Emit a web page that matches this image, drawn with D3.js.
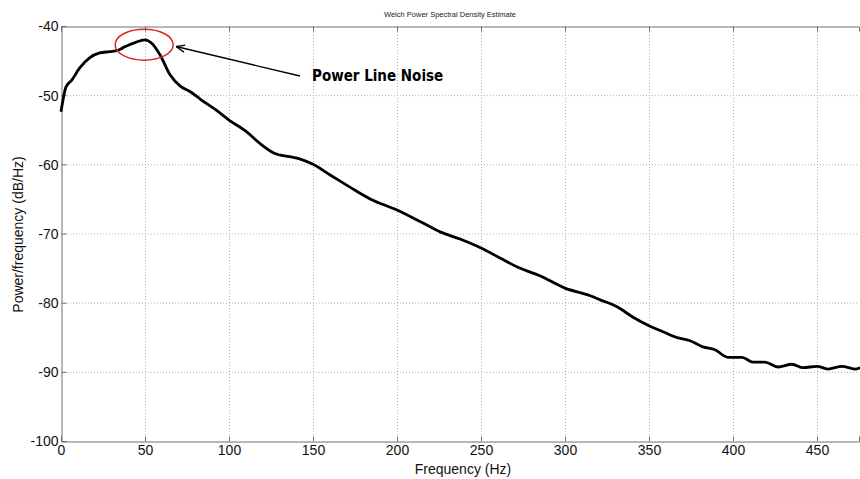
<!DOCTYPE html>
<html><head><meta charset="utf-8">
<script src="https://cdn.jsdelivr.net/npm/d3@7"></script>
<style>body{margin:0;background:#fff}svg{display:block}</style>
</head><body><svg id="c" width="860" height="479"></svg>
<script>
const freq = [0,3,6.5,11,17,23,29,34,38,44,50,54,59,65,71,77,83,92,100,110,118,127,136,142,150,160,172,184,200,214,226,237.5,250,261,273,285,300,315,321,331,340.5,350.6,358.3,367.3,374.4,382.1,389.3,397,405.4,411.9,419,426.8,435.1,441.7,450,456.5,464.9,472.6,475.6];
const power = [-52.4,-48.8,-47.8,-46.1,-44.6,-43.9,-43.7,-43.5,-43.0,-42.4,-42.0,-42.5,-44.2,-47.1,-48.7,-49.5,-50.6,-52.1,-53.6,-55.2,-56.9,-58.4,-58.9,-59.2,-60.0,-61.5,-63.3,-65.0,-66.6,-68.3,-69.8,-70.8,-72.1,-73.5,-75.0,-76.1,-77.9,-79.0,-79.6,-80.6,-82.1,-83.4,-84.2,-85.1,-85.5,-86.4,-86.8,-87.9,-87.9,-88.6,-88.6,-89.3,-88.9,-89.4,-89.2,-89.6,-89.2,-89.6,-89.4];
const xTicks = [0,50,100,150,200,250,300,350,400,450];
const yTicks = [-100,-90,-80,-70,-60,-50,-40];
const title = "Welch Power Spectral Density Estimate";
const xLabel = "Frequency (Hz)";
const yLabel = "Power/frequency (dB/Hz)";
const annotation = "Power Line Noise";

const svg = d3.select("#c");
const L=61, R=859, T=26, B=441;
const x = d3.scaleLinear().domain([0,475]).range([L,R]);
const y = d3.scaleLinear().domain([-100,-40]).range([B,T]);
const font = "'Liberation Sans', Arial, sans-serif";
const fmt = d => String(d);

// grid
const g = svg.append("g");
g.selectAll(".vg").data(xTicks.filter(d=>d>0)).join("line")
  .attr("x1",d=>x(d)+0.5).attr("x2",d=>x(d)+0.5).attr("y1",T).attr("y2",B)
  .attr("stroke","#b0b0b0").attr("stroke-width",1).attr("stroke-dasharray","1,2");
g.selectAll(".hg").data(yTicks.filter(d=>d>-100&&d<-40)).join("line")
  .attr("x1",L).attr("x2",R).attr("y1",d=>y(d)+0.5).attr("y2",d=>y(d)+0.5)
  .attr("stroke","#b0b0b0").attr("stroke-width",1).attr("stroke-dasharray","1,2");

// axes
const xa = svg.append("g").attr("transform",`translate(0,${B+0.5})`)
  .call(d3.axisBottom(x).tickValues(xTicks).tickFormat(fmt).tickSize(-5).tickPadding(4));
const xt = svg.append("g").attr("transform",`translate(0,${T+0.5})`)
  .call(d3.axisTop(x).tickValues(xTicks).tickSize(-5).tickFormat(""));
const ya = svg.append("g").attr("transform",`translate(${L+0.5},0)`)
  .call(d3.axisLeft(y).tickValues(yTicks).tickFormat(fmt).tickSize(-5).tickPadding(3));
[xa,xt,ya].forEach(a=>{
  a.select(".domain").attr("stroke","#707070");
  a.selectAll(".tick line").attr("stroke","#707070");
  a.selectAll("text").attr("font-family",font).attr("font-size",14).attr("fill","#111");
});
ya.selectAll("text").attr("dy","0.35em");
xa.selectAll("text").attr("dy","0.71em");

// curve
const data = freq.map((f,i)=>({f,p:power[i]}));
svg.append("path").datum(data)
  .attr("fill","none").attr("stroke","#000").attr("stroke-width",2.8)
  .attr("stroke-linejoin","round")
  .attr("d", d3.line().x(d=>x(d.f)).y(d=>y(d.p)).curve(d3.curveMonotoneX));

// labels
svg.append("text").attr("x",450).attr("y",17).attr("text-anchor","middle")
  .attr("font-family",font).attr("font-size",7.5).attr("fill","#222").text(title);
svg.append("text").attr("x",463).attr("y",474).attr("text-anchor","middle")
  .attr("font-family",font).attr("font-size",14).attr("fill","#111").text(xLabel);
svg.append("text").attr("transform",`translate(22.5,${(T+B)/2+1}) rotate(-90)`).attr("text-anchor","middle")
  .attr("font-family",font).attr("font-size",14).attr("fill","#111").text(yLabel);

// annotation
svg.append("ellipse").attr("cx",x(49.5)).attr("cy",y(-42.7)).attr("rx",29).attr("ry",15.5)
  .attr("fill","none").attr("stroke","#e02424").attr("stroke-width",1.5);
svg.append("defs").append("marker").attr("id","ah").attr("viewBox","0 0 10 10")
  .attr("refX",10).attr("refY",5).attr("markerWidth",9).attr("markerHeight",9)
  .attr("markerUnits","userSpaceOnUse").attr("orient","auto")
  .append("path").attr("d","M0,1 L10,5 L0,9").attr("fill","none").attr("stroke","#000").attr("stroke-width",1.5);
svg.append("line").attr("x1",300).attr("y1",76).attr("x2",176).attr("y2",46.5)
  .attr("stroke","#000").attr("stroke-width",1.3).attr("marker-end","url(#ah)");
svg.append("text").attr("x",312).attr("y",81)
  .attr("font-family","'Liberation Sans Narrow','DejaVu Sans Condensed',Arial,sans-serif")
  .attr("font-weight","bold").attr("font-size",15).attr("fill","#000").text(annotation);
</script></body></html>
